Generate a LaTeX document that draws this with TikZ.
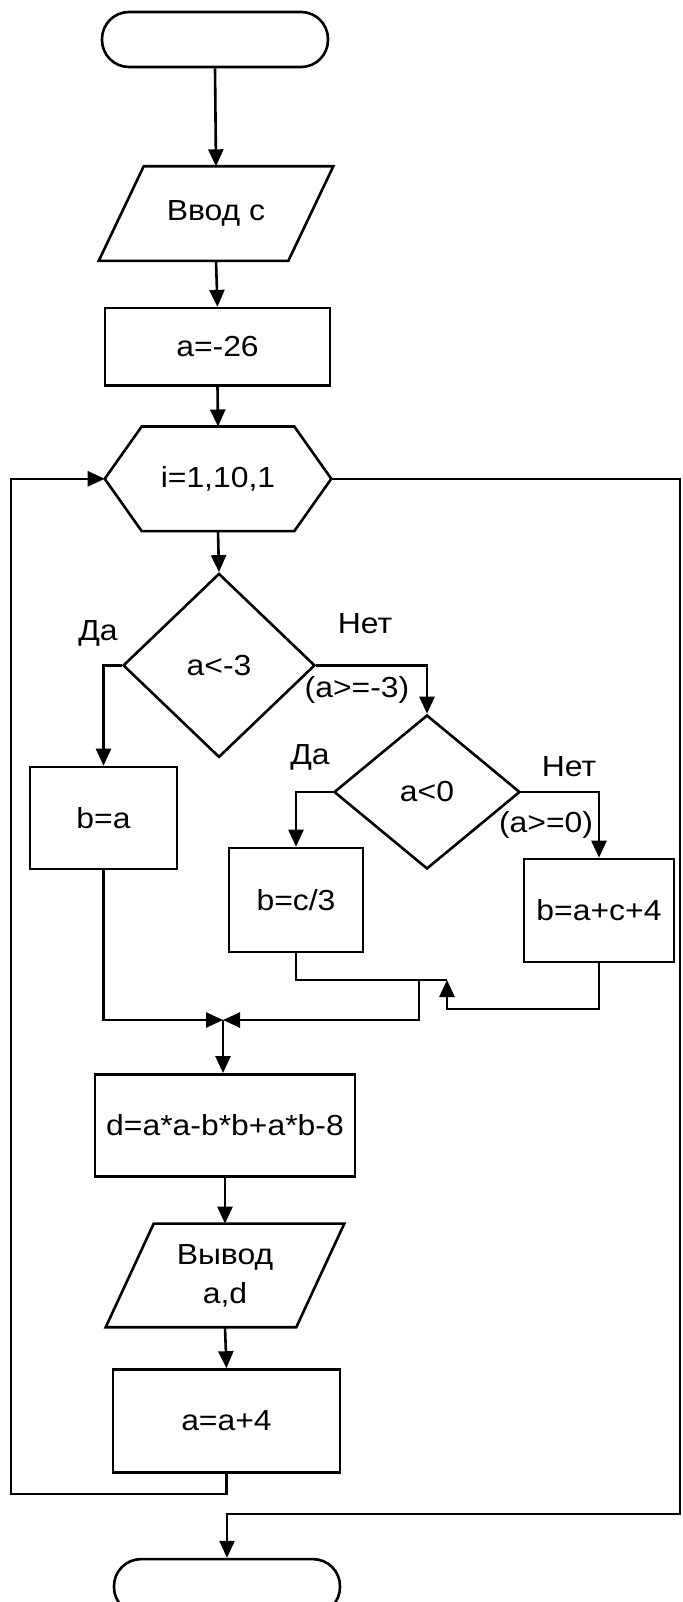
\documentclass[tikz,border=0pt]{standalone}
\usepackage{fontspec}
\setmainfont{Liberation Sans}[FakeStretch=1.1]
\usetikzlibrary{arrows.meta,positioning,calc,shapes.geometric}

\begin{document}
\begin{tikzpicture}[
    x=1pt, y=-1pt,
    >={Triangle[length=17pt,width=15pt]},
    line width=2.6pt,
    font=\fontsize{29}{39}\selectfont,
    term/.style={draw, rounded corners=27pt, minimum width=226pt,
                 minimum height=55pt, inner sep=0pt},
    box/.style={draw, minimum width=#1, minimum height=102pt, inner sep=0pt},
    box/.default=226pt,
    io/.style={minimum width=#1, minimum height=92pt, inner sep=0pt,
               align=center},
    cond/.style={draw, diamond, inner sep=0pt},
    arr/.style={->},
    lbl/.style={inner sep=0pt},
  ]
  \path[fill=white, use as bounding box] (0,0) rectangle (682,1602);

  % main column
  \node[term] (start) at (215,39.5) {};
  \node[io=232pt, below=98pt of start, xshift=1pt] (vvod) {Ввод с};
  \node[box=225pt, minimum height=77pt, below=46pt of vvod, xshift=1.5pt] (a26) {a=-26};
  \node[io=224pt, minimum height=102pt, below=40pt of a26, xshift=0.5pt] (cyc) {i=1,10,1};
  \node[cond, minimum width=192pt, minimum height=184pt, below=41pt of cyc, xshift=1pt] (if1) {a<-3};

  % branches
  \node[box=147pt] (ba) at (103.5,818) {b=a};
  \node[cond, minimum width=186pt, minimum height=154pt] (if2) at (427,792) {a<0};
  \node[box=134pt, minimum height=104pt] (bc3) at (296,900) {b=c/3};
  \node[box=150pt, minimum height=103pt] (bac4) at (599,910.5) {b=a+c+4};

  \coordinate (mrg) at (223,1020);
  \coordinate (jn) at (447,980);
  \coordinate (drop) at (419,980);
  \coordinate (low) at (447,1009);

  \node[box=260pt, below=53pt of mrg, xshift=2pt] (d) {d=a*a-b*b+a*b-8};
  \node[io=236pt, minimum height=101pt, below=46pt of d] (vyv) {Вывод\\a,d};
  \node[box=227pt, minimum height=103pt, below=41pt of vyv, xshift=1.5pt] (a4) {a=a+4};
  \node[term, below=84pt of a4, xshift=0.5pt] (stop) {};

  % outlines of io and loop blocks
  \draw (vvod.south west) -- ($(vvod.north west)+(45,0)$) -- (vvod.north east)
        -- ($(vvod.south east)-(45,0)$) -- cycle;
  \draw (vyv.south west) -- ($(vyv.north west)+(48,0)$) -- (vyv.north east)
        -- ($(vyv.south east)-(48,0)$) -- cycle;
  \draw (cyc.west) -- ($(cyc.north west)+(37,0)$) -- ($(cyc.north east)-(37,0)$)
        -- (cyc.east) -- ($(cyc.south east)-(37,0)$) -- ($(cyc.south west)+(37,0)$) -- cycle;

  % labels
  \node[lbl] (yes1) at (98,633) {Да};
  \node[lbl] (no1) at (365,624) {Нет};
  \node[lbl] (ge1) at (357,690) {(a>=-3)};
  \node[lbl] (yes2) at (310,757) {Да};
  \node[lbl] (no2) at (569,767) {Нет};
  \node[lbl] (ge2) at (546,825) {(a>=0)};

  \draw[arr] (start.south) -- (vvod.north);
  \draw[arr] (vvod.south) -- (a26.north);
  \draw[arr] (a26.south) -- (cyc.north);
  \draw[arr] (cyc.south) -- (if1.north);
  \draw[arr] (if1.west) -| (ba.north);
  \draw[arr] (if1.east) -| (if2.north);
  \draw[arr] (if2.west) -| (bc3.north);
  \draw[arr] (if2.east) -| (bac4.north);
  \draw[arr] (ba.south) |- (mrg);
  \draw (bc3.south) |- (jn);
  \draw[arr] (drop) |- (mrg);
  \draw[arr] (bac4.south) |- (low) -- (jn);
  \draw[arr] (mrg) -- (mrg |- d.north);
  \draw[arr] (d.south) -- (vyv.north);
  \draw[arr] (vyv.south) -- (a4.north);

  % loop back and exit
  \coordinate (lpb) at (11,1494);
  \draw[arr] (a4.south) |- (lpb) |- (cyc.west);
  \coordinate (ex) at (680,1514);
  \draw[arr] (cyc.east) -| (ex) -| (stop.north);
\end{tikzpicture}
\end{document}
